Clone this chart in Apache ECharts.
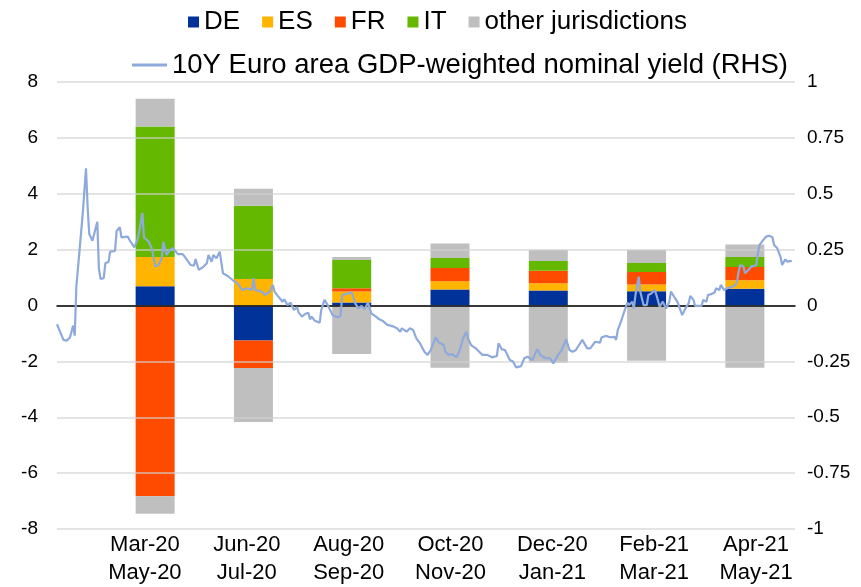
<!DOCTYPE html>
<html>
<head>
<meta charset="utf-8">
<script src="https://cdn.jsdelivr.net/npm/echarts@6/dist/echarts.min.js"></script>
<style>
  html, body { margin: 0; padding: 0; background: #fff; }
  #chart { width: 861px; height: 587px; }
</style>
</head>
<body>
<div id="chart"></div>
<script>
// bar periods (two-month windows)
const periodStart = ['Mar-20', 'Jun-20', 'Aug-20', 'Oct-20', 'Dec-20', 'Feb-21', 'Apr-21']
const periodEnd = ['May-20', 'Jul-20', 'Sep-20', 'Nov-20', 'Jan-21', 'Mar-21', 'May-21']
const periodLabels = periodStart.map((s, i) => s + '\n' + periodEnd[i])

// net flows by jurisdiction (LHS)
const deValues = [0.69, -1.25, 0.11, 0.57, 0.54, 0.51, 0.60]
const esValues = [1.05, 0.95, 0.39, 0.30, 0.26, 0.24, 0.30]
const frValues = [-6.83, -0.99, 0.12, 0.47, 0.44, 0.45, 0.48]
const itValues = [4.67, 2.62, 1.01, 0.36, 0.35, 0.32, 0.36]
const otherPos = [0.99, 0.61, 0.11, 0.52, 0.41, 0.48, 0.44]
const otherNeg = [-0.62, -1.93, -1.74, -2.23, -2.05, -1.98, -2.23]

// 10Y GDP-weighted yield (RHS): days since mid-Feb 2020 and values
const yieldDays = [
  0, 1, 3, 4, 6, 8, 10, 11, 12, 14, 16, 18, 19, 20, 22, 25, 26, 27, 29, 30,
  32, 33, 36, 37, 39, 40, 44, 45, 48, 50, 51, 53, 54, 57, 59, 61, 63, 65, 66, 68,
  70, 72, 75, 78, 80, 83, 85, 86, 88, 91, 93, 94, 96, 97, 99, 101, 103, 106, 109, 112,
  115, 118, 121, 122, 123, 126, 128, 129, 132, 134, 135, 137, 140, 141, 143, 145, 147, 149, 150, 152,
  154, 156, 157, 158, 160, 163, 164, 166, 168, 171, 174, 176, 177, 181, 183, 185, 187, 189, 191, 193,
  195, 198, 200, 202, 205, 208, 211, 213, 214, 217, 219, 221, 223, 225, 228, 230, 232, 235, 237, 240,
  241, 243, 245, 248, 249, 250, 252, 254, 255, 257, 260, 262, 264, 267, 268, 270, 273, 274, 276, 278,
  281, 283, 285, 288, 290, 292, 295, 298, 300, 303, 306, 308, 311, 313, 316, 318, 320, 322, 326, 329,
  331, 334, 337, 338, 341, 343, 346, 347, 348, 350, 352, 354, 355, 357, 358, 359, 361, 362, 364, 366,
  367, 369, 371, 372, 374, 376, 378, 380, 381, 383, 385, 388, 390, 392, 393, 395, 396, 400, 401, 403,
  404, 406, 408, 409, 411, 412, 414, 416, 419, 421, 422, 423, 424, 426, 427, 429, 431, 434, 435, 436,
  438, 440, 442, 444, 445, 447, 449, 450, 452, 453, 456
]
const yieldValues = [
  -0.084, -0.086, -0.136, -0.154, -0.157, -0.144, -0.090, -0.135, 0.084, 0.248, 0.413, 0.614, 0.442, 0.320, 0.290, 0.375, 0.166, 0.119, 0.122, 0.189,
  0.196, 0.241, 0.244, 0.333, 0.350, 0.305, 0.308, 0.293, 0.260, 0.296, 0.330, 0.415, 0.305, 0.285, 0.251, 0.174, 0.181, 0.211, 0.285, 0.226,
  0.248, 0.256, 0.230, 0.230, 0.211, 0.181, 0.178, 0.208, 0.159, 0.174, 0.189, 0.226, 0.196, 0.226, 0.211, 0.241, 0.144, 0.132, 0.114, 0.099,
  0.069, 0.077, 0.069, 0.122, 0.069, 0.065, 0.057, 0.047, 0.062, 0.092, 0.062, 0.043, 0.017, 0.028, 0.002, 0.013, -0.020, -0.008, -0.032, -0.050,
  -0.038, -0.032, -0.062, -0.050, -0.068, -0.077, -0.020, 0.025, 0.002, -0.043, -0.053, -0.047, 0.047, 0.055, 0.057, 0.010, -0.013, -0.002, -0.017, 0.013,
  -0.035, -0.050, -0.062, -0.068, -0.087, -0.092, -0.102, -0.117, -0.102, -0.117, -0.102, -0.110, -0.147, -0.166, -0.207, -0.221, -0.199, -0.142, -0.166, -0.177,
  -0.207, -0.221, -0.217, -0.232, -0.236, -0.199, -0.147, -0.117, -0.147, -0.177, -0.192, -0.207, -0.221, -0.221, -0.214, -0.232, -0.226, -0.169, -0.196, -0.199,
  -0.244, -0.251, -0.277, -0.271, -0.236, -0.229, -0.244, -0.196, -0.221, -0.236, -0.236, -0.259, -0.221, -0.202, -0.151, -0.199, -0.207, -0.199, -0.154, -0.192,
  -0.192, -0.162, -0.166, -0.142, -0.136, -0.142, -0.140, -0.154, -0.110, -0.072, -0.028, 0.013, 0.002, 0.017, -0.013, 0.047, 0.129, 0.062, 0.002, 0.002,
  0.047, 0.055, 0.069, 0.047, -0.005, 0.017, -0.013, 0.017, 0.062, 0.039, 0.017, -0.043, -0.013, 0.010, 0.043, 0.025, -0.002, -0.002, 0.025, 0.017,
  0.047, 0.051, 0.057, 0.077, 0.069, 0.092, 0.069, 0.077, 0.084, 0.092, 0.106, 0.151, 0.181, 0.174, 0.144, 0.159, 0.174, 0.181, 0.234, 0.271,
  0.290, 0.308, 0.312, 0.305, 0.271, 0.256, 0.218, 0.181, 0.207, 0.196, 0.200
]

const font = 'Arial, "Liberation Sans", sans-serif'
const chart = echarts.init(document.getElementById('chart'))

const barSeries = (name, values, color) => ({
  name,
  type: 'bar',
  stack: 'flows',
  xAxisIndex: 1,
  yAxisIndex: 2,
  barWidth: 39,
  itemStyle: { color },
  data: values
})

const option = {
  animation: false,
  legend: [
    {
      data: ['DE', 'ES', 'FR', 'IT', 'other jurisdictions'],
      left: 183,
      top: 4,
      icon: 'rect',
      itemWidth: 11,
      itemHeight: 11,
      itemGap: 22,
      textStyle: { fontFamily: font, fontSize: 26, color: '#000' }
    },
    {
      data: ['10Y Euro area GDP-weighted nominal yield (RHS)'],
      left: 127,
      top: 46,
      icon: 'rect',
      itemWidth: 35,
      itemHeight: 3,
      itemGap: 8,
      textStyle: { fontFamily: font, fontSize: 27.5, color: '#000' }
    }
  ],
  grid: [
    // line, gridlines and both value scales
    { left: 57, right: 66, top: 82, bottom: 58 },
    // bars
    { left: 106, right: 67, top: 82, bottom: 58 },
    // period labels
    { left: 94, right: 54, top: 82, bottom: 58 }
  ],
  xAxis: [
    {
      type: 'value',
      gridIndex: 0,
      min: 0,
      max: 458,
      z: 4,
      axisLine: { onZero: true, lineStyle: { color: '#000', width: 1.5 } },
      axisTick: { show: false },
      splitLine: { show: false },
      axisLabel: { show: false }
    },
    {
      type: 'category',
      gridIndex: 1,
      data: periodLabels,
      axisLine: { show: false },
      axisTick: { show: false },
      axisLabel: { show: false }
    },
    {
      type: 'category',
      gridIndex: 2,
      data: periodLabels,
      axisLine: { show: false },
      axisTick: { show: false },
      axisLabel: {
        margin: 14,
        fontFamily: font,
        fontSize: 22,
        lineHeight: 28,
        color: '#000'
      }
    }
  ],
  yAxis: [
    {
      type: 'value',
      gridIndex: 0,
      min: -8,
      max: 8,
      interval: 2,
      z: 3,
      axisLine: { show: false },
      axisTick: { show: false },
      splitLine: { lineStyle: { color: 'rgba(210,210,210,0.8)', width: 1.5 } },
      axisLabel: { margin: 19, fontFamily: font, fontSize: 19, color: '#000' }
    },
    {
      type: 'value',
      gridIndex: 0,
      min: -1,
      max: 1,
      interval: 0.25,
      axisLine: { show: false },
      axisTick: { show: false },
      splitLine: { show: false },
      axisLabel: { margin: 12, fontFamily: font, fontSize: 19, color: '#000' }
    },
    {
      type: 'value',
      gridIndex: 1,
      min: -8,
      max: 8,
      show: false
    },
    {
      type: 'value',
      gridIndex: 2,
      min: -8,
      max: 8,
      show: false
    }
  ],
  series: [
    barSeries('DE', deValues, '#003299'),
    barSeries('ES', esValues, '#FFB400'),
    barSeries('FR', frValues, '#FF4B00'),
    barSeries('IT', itValues, '#65B800'),
    barSeries('other jurisdictions', otherPos, '#BFBFBF'),
    barSeries('other jurisdictions', otherNeg, '#BFBFBF'),
    {
      name: '10Y Euro area GDP-weighted nominal yield (RHS)',
      type: 'line',
      xAxisIndex: 0,
      yAxisIndex: 1,
      z: 5,
      showSymbol: false,
      lineStyle: { color: '#8EA9DB', width: 2.2 },
      itemStyle: { color: '#8EA9DB' },
      data: yieldDays.map((d, i) => [d, yieldValues[i]])
    }
  ]
}

chart.setOption(option)
window.addEventListener('resize', () => chart.resize())
</script>
</body>
</html>
